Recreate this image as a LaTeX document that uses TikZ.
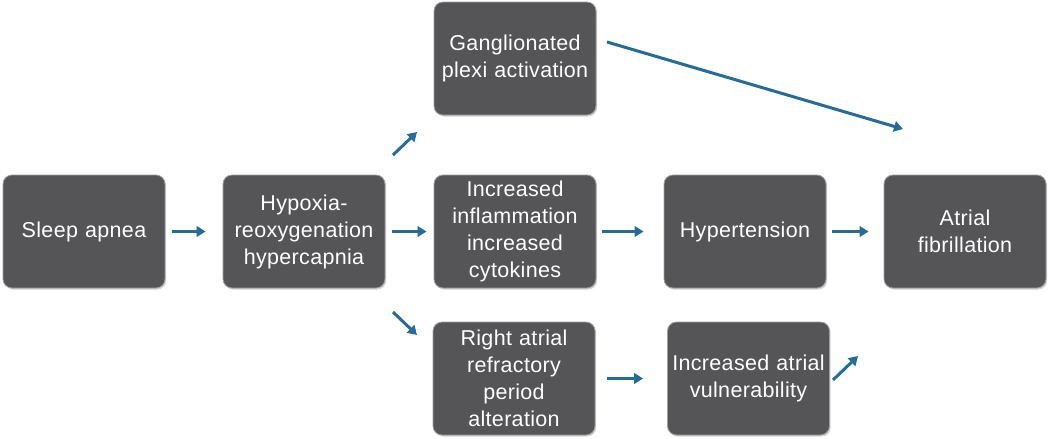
\documentclass[tikz,border=0pt]{standalone}
\usepackage{fontspec}
\setmainfont[LetterSpace=1.5]{Liberation Sans}
\usetikzlibrary{arrows.meta,shadows}
\definecolor{boxgray}{RGB}{85,85,88}
\definecolor{boxedge}{RGB}{160,160,163}
\definecolor{arrblue}{RGB}{38,108,154}
\tikzset{
  box/.style={rectangle, rounded corners=9pt, fill=boxgray, draw=boxedge, line width=0.8pt,
    minimum width=162pt, minimum height=113pt, text width=160pt, align=center, inner sep=0pt,
    text=white, font=\fontsize{21.5}{27}\selectfont,
    drop shadow={shadow xshift=1.2pt, shadow yshift=-1.5pt, opacity=0.35}},
  arr/.style={draw=arrblue, line width=3pt, -{Triangle[length=9pt,width=10.5pt]}}
}
\begin{document}
\begin{tikzpicture}[x=1pt,y=-1pt]
\useasboundingbox (0,0) rectangle (1050,439);
\node[box] (sleep) at (84,231.5) {Sleep apnea};
\node[box] (hyp) at (304,231.5) {Hypoxia-\\reoxygenation\\hypercapnia};
\node[box] (gang) at (515,58.5) {Ganglionated\\plexi activation};
\node[box] (infl) at (515,231.5) {Increased\\inflammation\\increased\\cytokines};
\node[box] (hyper) at (745,231.5) {Hypertension};
\node[box] (af) at (965,231.5) {Atrial\\fibrillation};
\node[box] (right) at (514,378.5) {Right atrial\\refractory\\period\\alteration};
\node[box] (vuln) at (748.5,378.5) {Increased atrial\\vulnerability};
% free arrow ends
\coordinate (hg1) at (393,155);
\coordinate (hg2) at (417,132);
\coordinate (hr1) at (393,312);
\coordinate (hr2) at (417,335);
\coordinate (ga1) at (607,42);
\coordinate (ga2) at (903,129);
\coordinate (va1) at (833,380);
\coordinate (va2) at (858,356);
\draw[arr, shorten <=7pt, shorten >=17pt] (sleep.east) -- (hyp.west);
\draw[arr, shorten <=7pt, shorten >=7pt] (hyp.east) -- (infl.west);
\draw[arr, shorten <=6pt, shorten >=20pt] (infl.east) -- (hyper.west);
\draw[arr, shorten <=6pt, shorten >=15pt] (hyper.east) -- (af.west);
\draw[arr, shorten <=12pt, shorten >=24pt] (right.east |- vuln.west) -- (vuln.west);
\draw[arr] (hg1) -- (hg2);
\draw[arr] (hr1) -- (hr2);
\draw[arr] (ga1) -- (ga2);
\draw[arr] (va1) -- (va2);
\end{tikzpicture}
\end{document}
